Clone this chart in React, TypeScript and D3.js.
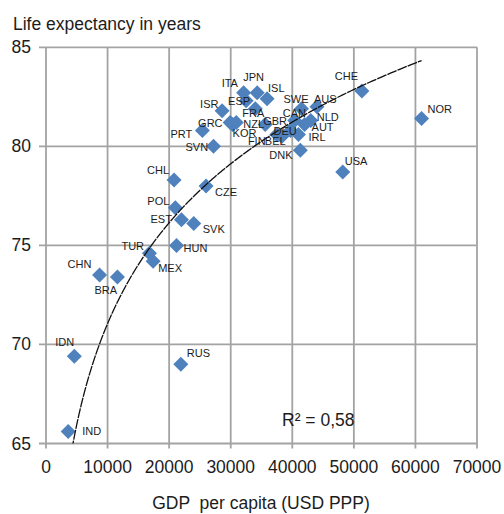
import React from "react";
import * as d3 from "d3";

// ---- data ----
const countries = ["IND","IDN","RUS","CHN","BRA","TUR","MEX","HUN","SVK","EST","POL","CHL","CZE","SVN","PRT","GRC","KOR","NZL","ISR","ITA","JPN","ISL","ESP","FRA","GBR","CAN","SWE","AUS","NLD","AUT","IRL","DEU","BEL","FIN","DNK","CHE","NOR","USA"];
const gdpPerCapita = [3600,4600,21900,8700,11600,16800,17400,21200,24000,22000,21000,20800,26000,27200,25400,29900,30300,30900,28600,32100,34300,35900,32500,34000,35600,40400,41500,44000,43000,42000,41000,39700,38300,37500,41300,51300,61000,48200];
const lifeExpectancy = [65.6,69.4,69.0,73.5,73.4,74.6,74.2,75.0,76.1,76.3,76.9,78.3,78.0,80.0,80.8,81.2,81.1,81.2,81.8,82.7,82.7,82.4,82.3,81.9,81.1,81.3,81.9,82.0,81.3,81.1,80.6,80.8,80.5,80.6,79.8,82.8,81.4,78.7];
const xTicks = [0,10000,20000,30000,40000,50000,60000,70000];
const yTicks = [65,70,75,80,85];
// logarithmic trend line y = a*ln(x) + b
const trendA = 7.343;
const trendB = 3.42;
const rSquaredLabel = "R² = 0,58";

// ---- label placement (style) : offset of label start from marker centre ----
const labelOffsets: Record<string, [number, number]> = {
  IND:[14,-1], IDN:[-19,-14], RUS:[6,-11], CHN:[-32,-11], BRA:[-23,13], TUR:[-28,-7],
  MEX:[5,7], HUN:[7,3], SVK:[9,5], EST:[-31,-1], POL:[-28,-7], CHL:[-27,-10], CZE:[9,6],
  SVN:[-28,1], PRT:[-32,3], GRC:[-32,0], KOR:[0,8], NZL:[7,1], ISR:[-22,-7], ITA:[-22,-10],
  JPN:[-14,-16], ISL:[1,-11], ESP:[-18,0], FRA:[-13,4], GBR:[-2,-4], CAN:[-12,-8],
  SWE:[-18,-10], AUS:[-3,-8], NLD:[6,-4], AUT:[7,2], IRL:[10,3], DEU:[-17,0], BEL:[-17,5],
  FIN:[-29,7], DNK:[-31,5], CHE:[-27,-15], NOR:[6,-10], USA:[2,-11],
};

const W = 504, H = 514;
const left = 46, right = 477, top = 47.3, bottom = 443.5;
const font = "'Liberation Sans', Arial, sans-serif";
const textColor = "#1c1c1c";
const gridColor = "#a3a3a3";
const markerColor = "#4f81bd";

export default function App() {
  const x = d3.scaleLinear().domain([0, 70000]).range([left, right]);
  const y = d3.scaleLinear().domain([65, 85]).range([bottom, top]);

  const xMin = d3.min(gdpPerCapita)!;
  const xMax = d3.max(gdpPerCapita)!;
  const trendPts: [number, number][] = d3.range(0, 301).map((i) => {
    const gx = xMin * Math.pow(xMax / xMin, i / 300);
    return [gx, trendA * Math.log(gx) + trendB];
  });
  const line = d3.line<[number, number]>().x((d) => x(d[0])).y((d) => y(d[1]));

  const ds = 7.5;
  const diamond = `M0,${-ds}L${ds},0L0,${ds}L${-ds},0Z`;

  return (
    <svg width={W} height={H} style={{ position: "absolute", left: 0, top: 0, background: "#fff" }} fontFamily={font}>
      <defs>
        <clipPath id="plot">
          <rect x={left} y={top} width={right - left} height={bottom - top} />
        </clipPath>
      </defs>
      <text x={13} y={30} fontSize={17.5} fill={textColor}>Life expectancy in years</text>

      {yTicks.map((t) => (
        <line key={"h" + t} x1={39} x2={right} y1={y(t)} y2={y(t)} stroke={gridColor} strokeWidth={1.8} />
      ))}
      {xTicks.map((t) => (
        <line key={"v" + t} x1={x(t)} x2={x(t)} y1={top} y2={bottom + 5} stroke={gridColor} strokeWidth={1.8} />
      ))}

      {yTicks.map((t) => (
        <text key={"yl" + t} x={31} y={y(t) + 6} fontSize={17.5} textAnchor="end" fill={textColor}>{t}</text>
      ))}
      {xTicks.map((t) => (
        <text key={"xl" + t} x={x(t)} y={473} fontSize={17.5} textAnchor="middle" fill={textColor}>{t}</text>
      ))}

      <g>
        {countries.map((c, i) => (
          <path key={"m" + c} d={diamond} transform={`translate(${x(gdpPerCapita[i])},${y(lifeExpectancy[i])})`} fill={markerColor} />
        ))}
      </g>

      <path d={line(trendPts) || ""} fill="none" stroke="#111" strokeWidth={1.3} strokeDasharray="10,1" clipPath="url(#plot)" />

      <g>
        {countries.map((c, i) => {
          const [dx, dy] = labelOffsets[c] || [5, -8];
          return (
            <text key={"t" + c} x={x(gdpPerCapita[i]) + dx} y={y(lifeExpectancy[i]) + dy + 4} fontSize={11} fill={textColor}>{c}</text>
          );
        })}
      </g>

      <text x={282} y={426} fontSize={17.5} fill={textColor}>{rSquaredLabel}</text>
      <text x={261} y={509} fontSize={17.5} textAnchor="middle" fill={textColor} style={{ whiteSpace: "pre" }}>GDP  per capita (USD PPP)</text>
    </svg>
  );
}
